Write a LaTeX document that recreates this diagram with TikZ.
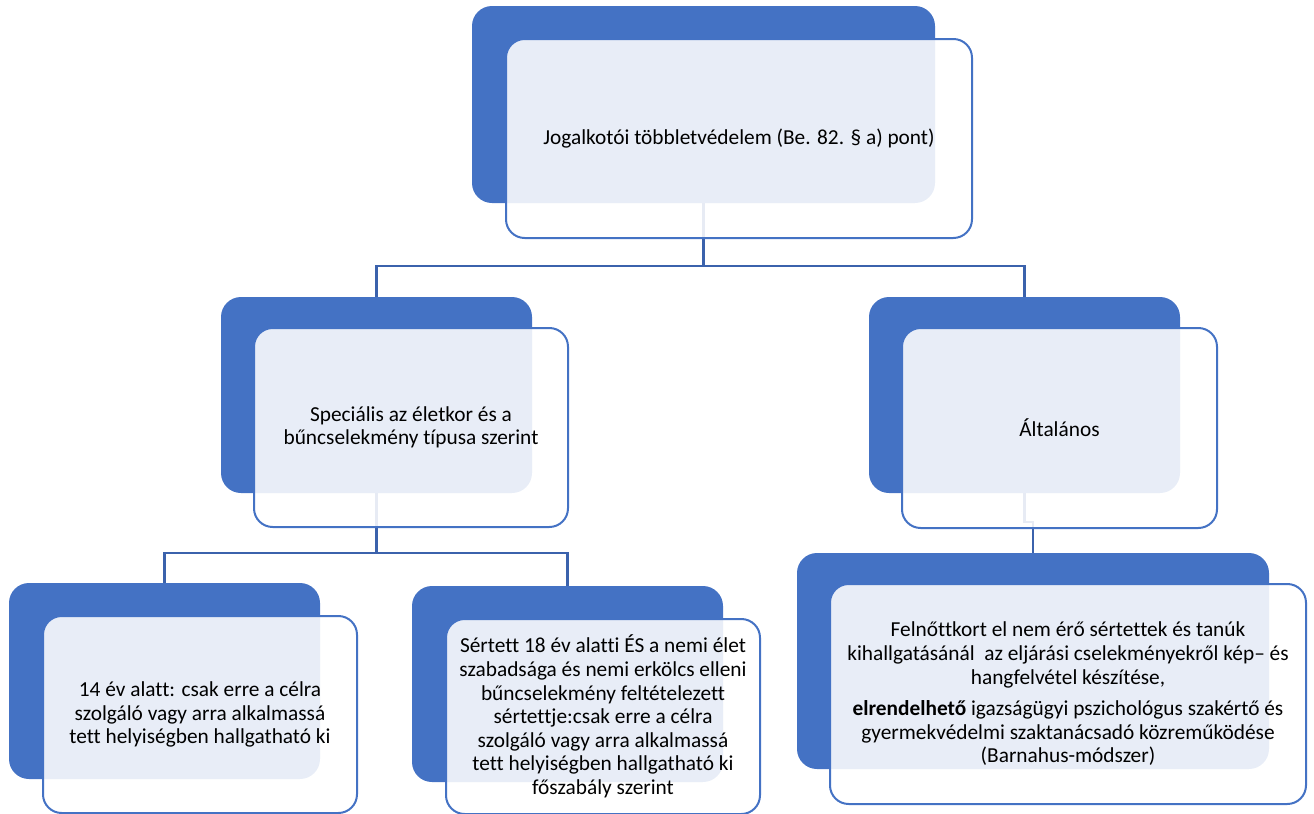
\documentclass[tikz,border=0pt]{standalone}
\usepackage{fontspec}
\setmainfont{Carlito}[Ligatures=NoCommon]
\definecolor{accblue}{HTML}{4472C4}
\definecolor{connblue}{HTML}{3B62AC}
\tikzset{
  backbox/.style={draw=none, fill=accblue, rounded corners=15pt, inner sep=0pt},
  frontbox/.style={draw=accblue, line width=1.5pt, fill=white, fill opacity=0.88, text opacity=1,
     rounded corners=14pt, inner sep=2pt, align=center, text=black,
     font=\fontsize{16}{17.7}\selectfont},
  conn/.style={draw=connblue, line width=1.6pt},
}
\begin{document}
\begin{tikzpicture}[x=0.75pt,y=-0.75pt]
\useasboundingbox (0,0) rectangle (1314,814);
% back boxes
\node[backbox, minimum width=347.25pt, minimum height=147.75pt] (b1) at (703.5,104.5) {};
\node[backbox, minimum width=233.25pt, minimum height=147pt] (b2) at (376.5,395) {};
\node[backbox, minimum width=233.25pt, minimum height=147pt] (b3) at (1024.5,395) {};
\node[backbox, minimum width=233.25pt, minimum height=147pt] (b4) at (164.5,681) {};
\node[backbox, minimum width=233.25pt, minimum height=147pt] (b5) at (567.5,684) {};
\node[backbox, minimum width=354pt, minimum height=162pt] (b6) at (1033,661) {};
% connectors
\draw[conn] (b1.south) -- ++(0,63) -| (b2.north);
\draw[conn] (b1.south) -- ++(0,63) -| (b3.north);
\draw[conn] (b2.south) -- ++(0,60) -| (b4.north);
\draw[conn] (b2.south) -- ++(0,60) -| (b5.north);
\draw[conn] (b3.south) -- ++(0,29) -| (b6.north);
% front boxes
\node[frontbox, minimum width=349.5pt, minimum height=149.25pt] (f1) at (739,138.5)
  {Jogalkotói többletvédelem (Be. 82. § a) pont)};
\node[frontbox, minimum width=235.5pt, minimum height=149.25pt] (f2) at (411,427.5)
  {Speciális az életkor és a\\bűncselekmény típusa szerint};
\node[frontbox, minimum width=236.25pt, minimum height=150pt] (f3) at (1059.5,428)
  {Általános};
\node[frontbox, minimum width=235.5pt, minimum height=147.75pt] (f4) at (200,714.5)
  {14 év alatt: csak erre a célra\\szolgáló vagy arra alkalmassá\\tett helyiségben hallgatható ki};
\node[frontbox, minimum width=235.5pt, minimum height=146.25pt] (f5) at (603,716.5)
  {Sértett 18 év alatti ÉS a nemi élet\\szabadsága és nemi erkölcs elleni\\bűncselekmény feltételezett\\sértettje:csak erre a célra\\szolgáló vagy arra alkalmassá\\tett helyiségben hallgatható ki\\főszabály szerint};
\node[frontbox, minimum width=357pt, minimum height=165pt] (f6) at (1068,694)
  {Felnőttkort el nem érő sértettek és tanúk\\kihallgatásánál\ \ az eljárási cselekményekről kép– és\\hangfelvétel készítése,\\[6pt]\textbf{elrendelhető} igazságügyi pszichológus szakértő és\\gyermekvédelmi szaktanácsadó közreműködése\\(Barnahus-módszer)};
\end{tikzpicture}
\end{document}
